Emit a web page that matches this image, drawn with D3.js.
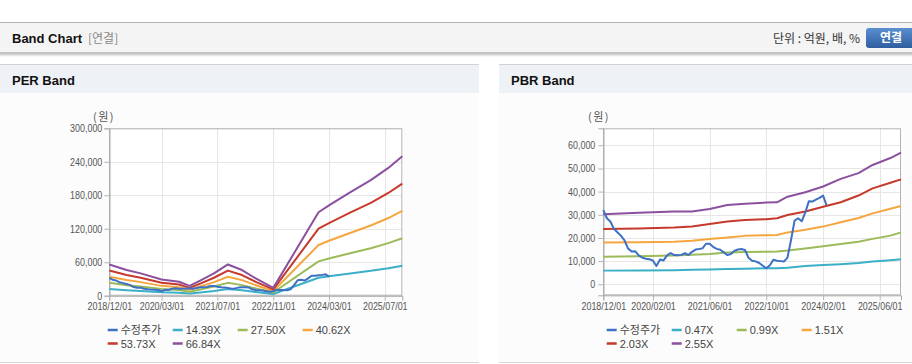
<!DOCTYPE html>
<html><head><meta charset="utf-8">
<script src="https://cdn.jsdelivr.net/npm/d3@7/dist/d3.min.js"></script>
<style>
html,body{margin:0;padding:0;background:#fff;}
svg{display:block;font-family:"Liberation Sans",Arial,"Noto Sans CJK KR",sans-serif;}
</style></head>
<body>
<svg id="page" width="912" height="364"></svg>
<script>
// ---------- DATA ----------
const seriesNames = ["수정주가"];
const perMultiples = ["14.39X","27.50X","40.62X","53.73X","66.84X"];
const pbrMultiples = ["0.47X","0.99X","1.51X","2.03X","2.55X"];

// adjusted price, monthly from 2018/12
const priceStart = "2018-12";
const priceValues = [32000,28500,27000,24000,22500,21000,19000,15500,14200,14300,12500,11500,
  11000,10800,10200,7900,10700,10300,12500,13500,12600,12500,12700,13400,
  12600,14000,15000,15200,15500,17500,17500,16200,15300,14900,13800,12600,
  13100,14500,15000,15200,14800,11500,10200,9900,9200,8000,6900,8200,
  10600,10200,10000,9800,11500,19000,27500,28500,27200,31000,35800,35700,
  36500,37300,38300,34200];

const perDates = ["2018-12","2019-05","2019-09","2020-03","2020-08","2020-11","2021-02","2021-06","2021-10",
  "2022-02","2022-06","2022-11","2023-12","2024-03","2024-09","2025-03","2025-08","2025-12"];
const per14 = [12060,9900,8610,6240,5380,3770,5810,8610,12060,9900,6670,3010,32190,34880,39830,44560,49300,53820];
const per27 = [23040,18930,16460,11930,10290,7200,11110,16460,23040,18930,12750,5760,61510,66650,76110,85170,94220,102860];
const per40 = [34030,27960,24310,17620,15190,10640,16410,24310,34030,27960,18840,8510,90850,98450,112430,125800,139170,151930];
const per53 = [45020,36980,32150,23310,20100,14070,21700,32150,45020,36980,24920,11250,120180,130230,148710,166400,184080,200970];
const per66 = [56000,46000,40000,29000,25000,17500,27000,40000,56000,46000,31000,14000,149500,162000,185000,207000,229000,250000];

const pbrDates = ["2018-12","2019-10","2020-08","2021-01","2021-06","2021-11","2022-04","2022-10","2023-01",
  "2023-04","2023-09","2024-02","2024-07","2024-12","2025-04","2025-09","2025-12"];
const pbr047 = [5900,6000,6100,6300,6400,6600,6700,6900,6900,7100,7900,8300,8700,9200,9800,10400,10800];
const pbr099 = [11900,12100,12400,12700,13100,13700,13900,14100,14200,14600,15500,16400,17400,18400,19600,21000,22400];
const pbr151 = [18000,18200,18400,18800,19600,20200,20900,21200,21300,22400,23500,24900,26800,28600,30600,32600,33800];
const pbr203 = [23900,24100,24500,24900,26000,27100,27800,28100,28500,29900,31400,33500,35400,38300,41400,43800,45300];
const pbr255 = [30200,30900,31400,31400,32500,34200,34800,35300,35400,37800,39700,42200,45500,48000,51500,54500,56800];

const perXTicks = ["2018/12/01","2020/03/01","2021/07/01","2022/11/01","2024/03/01","2025/07/01"];
const pbrXTicks = ["2018/12/01","2020/02/01","2021/06/01","2022/10/01","2024/02/01","2025/06/01"];
const perYTicks = [0,60000,120000,180000,240000,300000];
const pbrYTicks = [0,10000,20000,30000,40000,50000,60000];
const xDomain = ["2018/12/01","2025/12/01"];

const colors = ["#3e70c4","#3aafc7","#9bbb59","#f5a63f","#c6392c","#8b509e"];

// ---------- PAGE ----------
const svg = d3.select("#page");
const pm = d3.timeParse("%Y-%m"), pd = d3.timeParse("%Y/%m/%d");

const defs = svg.append("defs");
const g1 = defs.append("linearGradient").attr("id","btn").attr("x1",0).attr("y1",0).attr("x2",0).attr("y2",1);
g1.append("stop").attr("offset","0%").attr("stop-color","#5b8fd0");
g1.append("stop").attr("offset","100%").attr("stop-color","#2e5e9f");
const g2 = defs.append("linearGradient").attr("id","shadow").attr("x1",0).attr("y1",0).attr("x2",0).attr("y2",1);
g2.append("stop").attr("offset","0%").attr("stop-color","#bbb");
g2.append("stop").attr("offset","100%").attr("stop-color","#fff");

// header bar
svg.append("rect").attr("x",0).attr("y",53).attr("width",912).attr("height",4).attr("fill","url(#shadow)");
svg.append("rect").attr("x",0).attr("y",22).attr("width",912).attr("height",31).attr("fill","#f4f4f4");
svg.append("line").attr("x1",0).attr("x2",912).attr("y1",22.5).attr("y2",22.5).attr("stroke","#b3b3b3");
svg.append("line").attr("x1",0).attr("x2",912).attr("y1",52.5).attr("y2",52.5).attr("stroke","#c4c4c4");
svg.append("text").attr("x",12).attr("y",43).attr("font-size",13).attr("font-weight","bold").attr("fill","#111").text("Band Chart");
svg.append("text").attr("x",88).attr("y",43).attr("font-size",12).attr("fill","#888")
  .style("font-family","'Noto Sans CJK KR',sans-serif").text("[연결]");
svg.append("text").attr("x",860).attr("y",43).attr("text-anchor","end").attr("font-size",12).attr("fill","#333")
  .style("font-family","'Noto Sans CJK KR',sans-serif").text("단위 : 억원, 배, %");
svg.append("rect").attr("x",866).attr("y",28).attr("width",52).attr("height",20).attr("rx",3).attr("fill","url(#btn)");
svg.append("text").attr("x",891).attr("y",42).attr("text-anchor","middle").attr("font-size",12).attr("font-weight","bold")
  .attr("fill","#fff").style("font-family","'Noto Sans CJK KR',sans-serif").text("연결");

function panel(x0, x1, title){
  svg.append("rect").attr("x",x0).attr("y",93).attr("width",x1-x0).attr("height",269).attr("fill","#fcfcfc");
  svg.append("rect").attr("x",x0).attr("y",64).attr("width",x1-x0).attr("height",29).attr("fill","#eef1f6");
  svg.append("line").attr("x1",x0).attr("x2",x1).attr("y1",64.5).attr("y2",64.5).attr("stroke","#d2d2d2");
  svg.append("line").attr("x1",x0).attr("x2",x1).attr("y1",362.5).attr("y2",362.5).attr("stroke","#d6d6d6");
  svg.append("text").attr("x",x0+12).attr("y",85).attr("font-size",13).attr("font-weight","bold").attr("fill","#111").text(title);
}
panel(0,479,"PER Band");
panel(499,912,"PBR Band");

function squeeze(sel, f){
  sel.each(function(){
    const w = this.getComputedTextLength();
    this.setAttribute("textLength", (w*f).toFixed(2));
    this.setAttribute("lengthAdjust","spacingAndGlyphs");
  });
}

function chart(cfg){
  const g = svg.append("g");
  const x = d3.scaleTime().domain(xDomain.map(pd)).range([cfg.left, cfg.right]);
  const y = d3.scaleLinear().domain(cfg.yDomain).range([cfg.bottom, cfg.top]);
  g.append("rect").attr("x",cfg.left).attr("y",cfg.top).attr("width",cfg.right-cfg.left).attr("height",cfg.bottom-cfg.top).attr("fill","#fff");
  // grid
  const xt = cfg.xTicks.map(pd);
  g.append("g").selectAll("line").data(xt).join("line")
    .attr("x1",d=>Math.round(x(d))+0.5).attr("x2",d=>Math.round(x(d))+0.5)
    .attr("y1",cfg.top).attr("y2",cfg.bottom).attr("stroke","#e6e6e6");
  g.append("g").selectAll("line").data(cfg.yTicks).join("line")
    .attr("x1",cfg.left).attr("x2",cfg.right)
    .attr("y1",d=>Math.round(y(d))+0.5).attr("y2",d=>Math.round(y(d))+0.5).attr("stroke","#e6e6e6");
  // frame
  g.append("rect").attr("x",cfg.left+0.5).attr("y",cfg.top+0.5).attr("width",cfg.right-cfg.left-1).attr("height",cfg.bottom-cfg.top-1)
    .attr("fill","none").attr("stroke","#b4b4b4");
  // axes
  const ax = g.append("g").attr("transform",`translate(0,${cfg.bottom})`)
    .call(d3.axisBottom(x).tickValues(xt).tickFormat(d3.timeFormat("%Y/%m/%d")).tickSize(5).tickPadding(2));
  const ay = g.append("g").attr("transform",`translate(${cfg.left},0)`)
    .call(d3.axisLeft(y).tickValues(cfg.yTicks).tickFormat(d3.format(",")).tickSize(5).tickPadding(cfg.yPad));
  [ax,ay].forEach(a=>{
    a.select(".domain").attr("stroke","#a8a8a8");
    a.selectAll(".tick line").attr("stroke","#b4b4b4");
    a.selectAll("text").attr("fill","#555").attr("font-size",11).style("font-family","'Liberation Sans',Arial,sans-serif");
    squeeze(a.selectAll("text"), 0.81);
  });
  g.append("text").attr("x",cfg.unitX).attr("y",121).attr("font-size",11).attr("fill","#555")
    .style("font-family","'Noto Sans CJK KR',sans-serif").style("letter-spacing","1.5px").text("(원)");
  // lines
  const line = d3.line().x(d=>x(d[0])).y(d=>y(d[1]));
  const bands = cfg.bands;
  bands.forEach((vals,i)=>{
    g.append("path").datum(cfg.dates.map((d,j)=>[pm(d), vals[j]]))
      .attr("d",line).attr("fill","none").attr("stroke",colors[i+1]).attr("stroke-width",2).attr("stroke-linejoin","round");
  });
  const months = d3.timeMonth.range(pm(priceStart), d3.timeMonth.offset(pm(priceStart), priceValues.length));
  g.append("path").datum(months.map((d,j)=>[d, priceValues[j]]))
    .attr("d",line).attr("fill","none").attr("stroke",colors[0]).attr("stroke-width",2).attr("stroke-linejoin","round");
  // legend
  const names = seriesNames.concat(cfg.multiples);
  names.forEach((n,i)=>{
    const row = i<4?0:1, col = i<4?i:i-4;
    const lx = cfg.legX + col*65, ly = row===0?330:343.5;
    g.append("line").attr("x1",lx).attr("x2",lx+10).attr("y1",ly).attr("y2",ly).attr("stroke",colors[i]).attr("stroke-width",2.5);
    g.append("text").attr("x",lx+13).attr("y",ly+4).attr("font-size",11).attr("fill","#444")
      .style("font-family", i===0?"'Noto Sans CJK KR',sans-serif":"'Liberation Sans',Arial,sans-serif").text(n);
  });
}

chart({left:109.3,right:402.3,top:128.3,bottom:295.7,yDomain:[0,300000],yTicks:perYTicks,xTicks:perXTicks,
  dates:perDates,bands:[per14,per27,per40,per53,per66],multiples:perMultiples,legX:107.7,unitX:93,yPad:2});
chart({left:603.3,right:901,top:128.3,bottom:295.3,yDomain:[-4750,67330],yTicks:pbrYTicks,xTicks:pbrXTicks,
  dates:pbrDates,bands:[pbr047,pbr099,pbr151,pbr203,pbr255],multiples:pbrMultiples,legX:606.7,unitX:588,yPad:3});
</script>
</body></html>
